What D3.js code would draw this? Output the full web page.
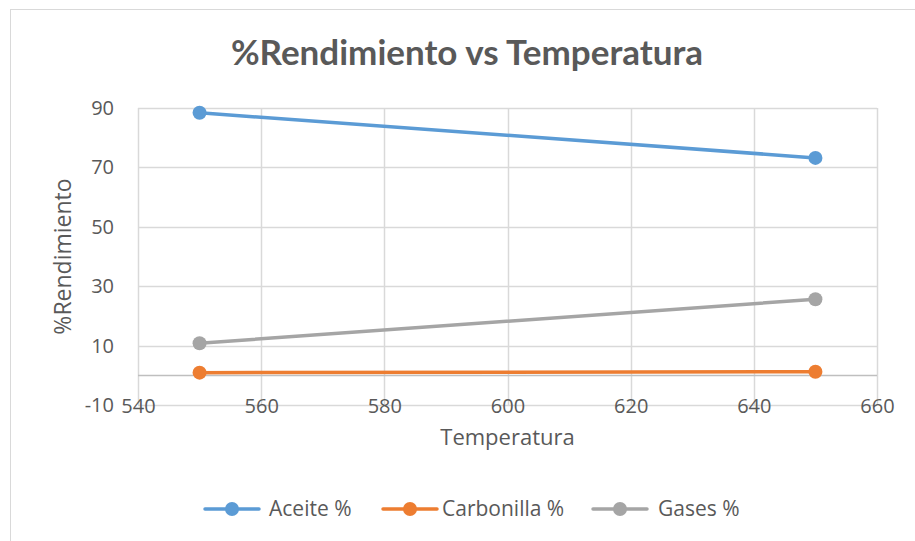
<!DOCTYPE html>
<html>
<head>
<meta charset="utf-8">
<script src="https://cdn.jsdelivr.net/npm/d3@7"></script>
<style>
  html, body { margin: 0; padding: 0; background: #fff; }
  svg { display: block; }
  text { font-family: "Open Sans", sans-serif; fill: #595959; }
</style>
</head>
<body>
<svg id="chart" width="915" height="541"></svg>
<script>
// Yield data by pyrolysis temperature
const temperatures = [550, 650];
const aceite = [88.4, 73.2];
const carbonilla = [0.9, 1.2];
const gases = [10.8, 25.6];

const seriesNames = ["Aceite %", "Carbonilla %", "Gases %"];
const seriesColors = ["#5B9BD5", "#ED7D31", "#A5A5A5"];
const seriesValues = [aceite, carbonilla, gases];

const xTicks = [540, 560, 580, 600, 620, 640, 660];
const yTicks = [-10, 10, 30, 50, 70, 90];

const title = "%Rendimiento vs Temperatura";
const xTitle = "Temperatura";
const yTitle = "%Rendimiento";

const svg = d3.select("#chart");
const W = 915, H = 541;
const plot = { left: 138, right: 877, top: 108, bottom: 405 };
const font = "'Open Sans', sans-serif";

// chart frame
svg.append("rect")
  .attr("x", 10.5).attr("y", 9.5)
  .attr("width", W - 10).attr("height", H)
  .attr("fill", "#fff").attr("stroke", "#D9D9D9").attr("stroke-width", 1);

const x = d3.scaleLinear().domain([540, 660]).range([plot.left, plot.right]);
const y = d3.scaleLinear().domain([-10, 90]).range([plot.bottom, plot.top]);

// gridlines
const grid = svg.append("g");
grid.selectAll("line.h").data(yTicks).join("line")
  .attr("x1", plot.left).attr("x2", plot.right)
  .attr("y1", d => Math.round(y(d)) + 0.5).attr("y2", d => Math.round(y(d)) + 0.5)
  .attr("stroke", "#D9D9D9").attr("stroke-width", 1.5);
grid.selectAll("line.v").data(xTicks).join("line")
  .attr("x1", d => Math.round(x(d)) + 0.5).attr("x2", d => Math.round(x(d)) + 0.5)
  .attr("y1", plot.top).attr("y2", plot.bottom)
  .attr("stroke", "#D9D9D9").attr("stroke-width", 1.5);

// horizontal axis crosses at zero
svg.append("line")
  .attr("x1", plot.left).attr("x2", plot.right)
  .attr("y1", Math.round(y(0)) + 0.5).attr("y2", Math.round(y(0)) + 0.5)
  .attr("stroke", "#BFBFBF").attr("stroke-width", 1.5);

const plain = d => String(d);

// y tick labels
const yAxis = d3.axisLeft(y).tickValues(yTicks).tickFormat(plain).tickSize(0).tickPadding(0);
const gy = svg.append("g").attr("transform", "translate(114,0)").call(yAxis);
gy.select(".domain").remove();
gy.selectAll("text").style("font-size", "20px").attr("fill", "#595959")
  .style("font-family", font);

// x tick labels at the bottom of the plot
const xAxis = d3.axisBottom(x).tickValues(xTicks).tickFormat(plain).tickSize(0).tickPadding(0);
const gx = svg.append("g").attr("transform", "translate(0,399)").call(xAxis);
gx.select(".domain").remove();
gx.selectAll("text").style("font-size", "20px").attr("fill", "#595959")
  .style("font-family", font);

// series lines and markers
const line = d3.line().x((d, i) => x(temperatures[i])).y(d => y(d));
seriesValues.forEach((vals, k) => {
  svg.append("path").datum(vals)
    .attr("d", line)
    .attr("fill", "none")
    .attr("stroke", seriesColors[k])
    .attr("stroke-width", 3.5)
    .attr("stroke-linecap", "round");
  svg.selectAll(null).data(vals).join("circle")
    .attr("cx", (d, i) => x(temperatures[i]))
    .attr("cy", d => y(d))
    .attr("r", 7)
    .attr("fill", seriesColors[k]);
});

// titles
svg.append("text")
  .attr("x", 467).attr("y", 65)
  .attr("text-anchor", "middle")
  .style("font-family", "Lato, 'Open Sans', sans-serif")
  .style("font-size", "35px").style("font-weight", "bold")
  .text(title);

svg.append("text")
  .attr("x", (plot.left + plot.right) / 2).attr("y", 445)
  .attr("text-anchor", "middle")
  .style("font-size", "22px")
  .text(xTitle);

svg.append("text")
  .attr("transform", `translate(71,${(plot.top + plot.bottom) / 2}) rotate(-90)`)
  .attr("text-anchor", "middle")
  .style("font-size", "23px")
  .text(yTitle);

// legend
const legendX = [205, 383, 593];
const legendTextX = [269, 442, 658];
const lg = svg.append("g");
seriesNames.forEach((name, k) => {
  const lx = legendX[k];
  lg.append("line")
    .attr("x1", lx).attr("x2", lx + 54)
    .attr("y1", 509).attr("y2", 509)
    .attr("stroke", seriesColors[k]).attr("stroke-width", 3.5)
    .attr("stroke-linecap", "round");
  lg.append("circle").attr("cx", lx + 27).attr("cy", 509).attr("r", 7)
    .attr("fill", seriesColors[k]);
  lg.append("text").attr("x", legendTextX[k]).attr("y", 516)
    .style("font-size", "21px").text(name);
});
</script>
</body>
</html>
